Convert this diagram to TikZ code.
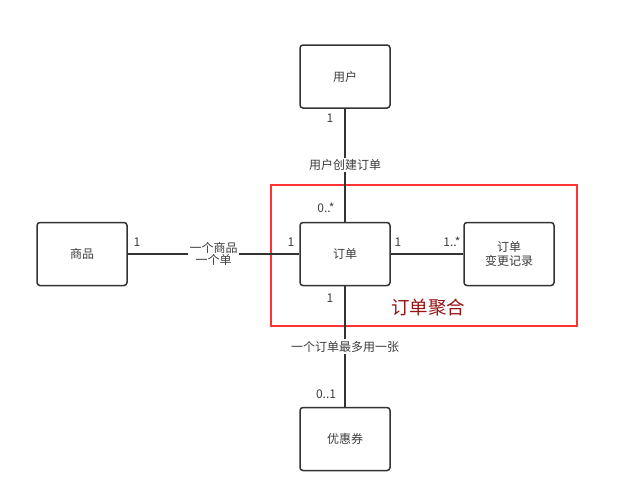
\documentclass[tikz,border=0pt]{standalone}
\usepackage{fontspec}
\setmainfont{Noto Sans CJK SC}
\usepackage{xcolor}
\usetikzlibrary{positioning}
\definecolor{linegray}{RGB}{51,51,51}
\definecolor{textgray}{RGB}{60,60,60}
\definecolor{aggrred}{RGB}{255,51,51}
\definecolor{aggrtext}{RGB}{150,20,20}

\begin{document}
\begin{tikzpicture}[x=1pt, y=-1pt,
  entity/.style={draw=linegray, line width=1.5pt, rounded corners=3pt, fill=white,
    minimum width=90pt, minimum height=63pt, align=center, text=textgray,
    font=\fontsize{12}{14}\selectfont},
  link/.style={draw=linegray, line width=1.5pt},
  role/.style={fill=white, inner sep=1.5pt, align=center, text=textgray,
    font=\fontsize{12}{12.5}\selectfont},
  mult/.style={inner sep=0pt, text=textgray, font=\fontsize{12}{14}\selectfont}]

\useasboundingbox (0,0) rectangle (624,501);

% --- aggregate boundary ---
\draw[aggrred, line width=1.6pt] (271,185) rectangle (577,326);
\node[aggrtext, font=\fontsize{18.5}{21}\selectfont] (aggrlabel) at (428,308) {订单聚合};

% --- entities ---
\node[entity] (order) at (345,254) {订单};
\node[entity] (user) at (345,76.5) {用户};
\node[entity] (goods) at (82,254) {商品};
\node[entity] (changelog) at (509,254) {订单\\变更记录};
\node[entity] (coupon) at (345,439) {优惠券};

% --- associations ---
\draw[link] (user) -- node[role] (creates) {用户创建订单} (order);
\draw[link] (goods) -- node[role] (pergoods) {一个商品\\一个单} (order);
\draw[link] (order) -- (changelog);
\draw[link] (order) -- node[role] (percoupon) {一个订单最多用一张} (coupon);

% --- multiplicities ---
\node[mult] (m1) at (330,118) {1};
\node[mult] (m2) at (326,208) {0..*};
\node[mult] (m3) at (137,242) {1};
\node[mult] (m4) at (291,242) {1};
\node[mult] (m5) at (398,242) {1};
\node[mult] (m6) at (452,242) {1..*};
\node[mult] (m7) at (330,298) {1};
\node[mult] (m8) at (326,394) {0..1};

\end{tikzpicture}
\end{document}
